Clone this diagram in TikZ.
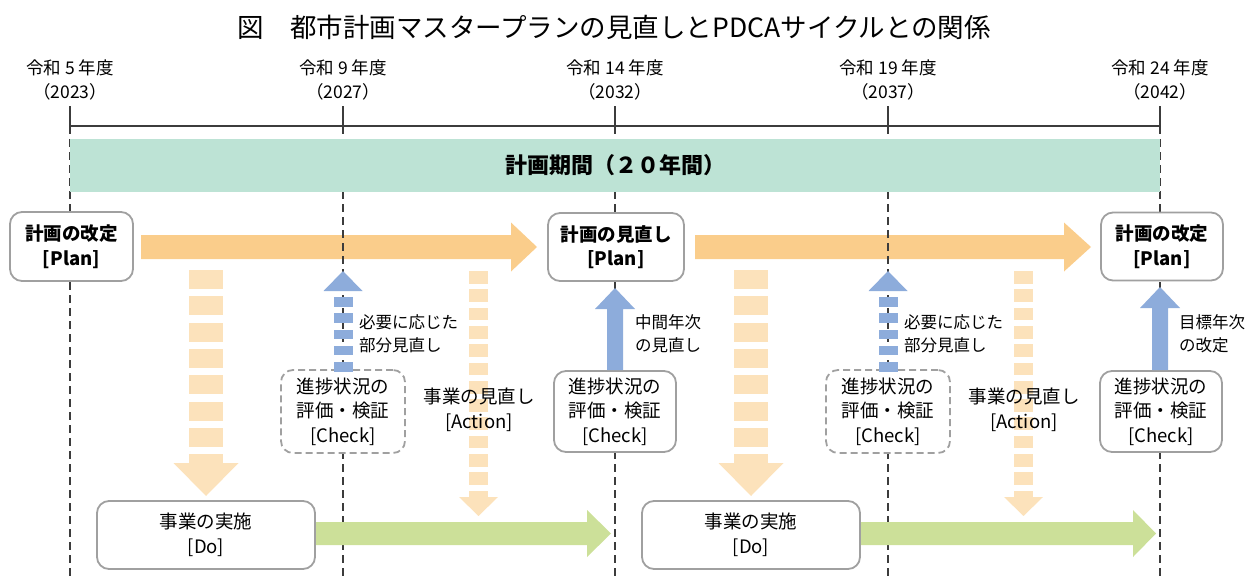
\documentclass[tikz,border=0pt]{standalone}
\usepackage{fontspec}
\setmainfont{Noto Sans CJK JP}
\definecolor{orangeA}{RGB}{250,205,139}
\definecolor{orangeL}{RGB}{252,226,187}
\definecolor{blueA}{RGB}{141,172,219}
\definecolor{greenA}{RGB}{204,224,153}
\definecolor{bandc}{RGB}{189,227,213}
\definecolor{boxgray}{RGB}{160,160,160}
\definecolor{linegray}{RGB}{60,60,60}
\newcommand\fs[2]{\fontsize{#1}{#2}\selectfont}
% horizontal block arrow: color, x start, x head, x tip, y centre, half body, half head
\newcommand\harrow[7]{\fill[#1] (#2,#5-#6) -- (#3,#5-#6) -- (#3,#5-#7) -- (#4,#5) -- (#3,#5+#7) -- (#3,#5+#6) -- (#2,#5+#6) -- cycle;}
% vertical solid block arrow: color, x centre, half body, half head, y body end, y head base, y tip
\newcommand\varrow[7]{\fill[#1] (#2-#3,#5) -- (#2-#3,#6) -- (#2-#4,#6) -- (#2,#7) -- (#2+#4,#6) -- (#2+#3,#6) -- (#2+#3,#5) -- cycle;}
% dashed body: color, x centre, half body, first dash y, period, dash length, last index
\newcommand\dvbody[7]{%
  \foreach \k in {0,...,#7}{\fill[#1] (#2-#3,#4+\k*#5) rectangle (#2+#3,#4+\k*#5+#6);}}
% head: color, x centre, half head, y base, y tip
\newcommand\dvhead[5]{\fill[#1] (#2-#3,#4) -- (#2+#3,#4) -- (#2,#5) -- cycle;}
\tikzset{
  rbox/.style={draw=boxgray, line width=1.8pt, rounded corners=12pt, fill=white, align=center, inner sep=0pt},
  dbox/.style={rbox, dash pattern=on 7pt off 4pt},
  plantext/.style={font=\bfseries\fs{18.5}{24.5}},
  boxtext/.style={font=\fs{18.5}{24.5}},
  yeartext/.style={font=\fs{17.5}{20}},
  sidetext/.style={font=\fs{16.5}{23}, align=left, anchor=west, inner sep=0pt},
  actext/.style={font=\fs{18.5}{24.5}, align=center, inner sep=0pt},
  tick/.style={draw=linegray, line width=1.3pt},
  vline/.style={draw=linegray, line width=1.3pt, dash pattern=on 8pt off 5pt},
}
\begin{document}
\begin{tikzpicture}[x=1pt,y=-1pt]
\useasboundingbox (0,0) rectangle (1258,578);

% title
\node[font=\fs{26.5}{30}] (title) at (614,27) {図　都市計画マスタープランの見直しとPDCAサイクルとの関係};

% year labels
\foreach \xx/\nen/\yr/\nm in {70/5/2023/a, 343/9/2027/b, 615/14/2032/c, 888/19/2037/d, 1160/24/2042/e}{
  \node[yeartext] (y\nm) at (\xx,68) {令和 \nen{} 年度};
  \node[yeartext] (p\nm) at (\xx,92) {（\yr）};
  \coordinate (top\nm) at (\xx,106);
  \coordinate (mid\nm) at (\xx,126);
  \coordinate (bot\nm) at (\xx,578);
}

% orange plan arrows (behind timeline)
\harrow{orangeA}{141}{511}{537}{247}{12}{24.5}
\harrow{orangeA}{695}{1064}{1091}{247}{12}{24.5}

% timeline
\foreach \nm in {a,b,c,d,e}{
  \draw[tick] (top\nm) -- (mid\nm);
  \draw[vline] (mid\nm) -- (bot\nm);
}
\draw[draw=linegray, line width=2pt] (mida) -- (mide);

% band
\node[fill=bandc, minimum width=1090pt, minimum height=53pt, inner sep=0pt, font=\bfseries\fs{22}{24}] (band) at (615,165.5) {計画期間（２０年間）};

% light orange dashed arrows (Do)
\dvbody{orangeL}{206}{17}{270}{26.3}{19}{7}\dvhead{orangeL}{206}{32.5}{463}{496}
\dvbody{orangeL}{751}{17}{270}{26.3}{19}{7}\dvhead{orangeL}{751}{32.5}{463}{496}

% action dashed arrows
\dvbody{orangeL}{478.5}{9.5}{271}{18.3}{12.7}{12}\dvhead{orangeL}{478.5}{19.5}{497}{516}
\dvbody{orangeL}{1023.5}{9.5}{271}{18.3}{12.7}{12}\dvhead{orangeL}{1023.5}{19.5}{497}{516}

% green arrows
\harrow{greenA}{314}{587}{611}{533.5}{11.5}{23.5}
\harrow{greenA}{859}{1133}{1156}{533.5}{11.5}{23.5}

% plan boxes
\node[rbox, plantext, minimum width=123pt, minimum height=69pt] (plan1) at (71.5,246.5) {計画の改定\\{[Plan]}};
\node[rbox, plantext, minimum width=136pt, minimum height=68pt] (plan2) at (616,247) {計画の見直し\\{[Plan]}};
\node[rbox, plantext, minimum width=122pt, minimum height=68pt] (plan3) at (1162,246.5) {計画の改定\\{[Plan]}};

% check boxes
\node[dbox, boxtext, minimum width=124pt, minimum height=83pt] (check1) at (343,411.5) {進捗状況の\\評価・検証\\{[Check]}};
\node[rbox, boxtext, minimum width=122pt, minimum height=81pt] (check2) at (615,411.5) {進捗状況の\\評価・検証\\{[Check]}};
\node[dbox, boxtext, minimum width=124pt, minimum height=83pt] (check3) at (888,411.5) {進捗状況の\\評価・検証\\{[Check]}};
\node[rbox, boxtext, minimum width=122pt, minimum height=81pt] (check4) at (1161,411.5) {進捗状況の\\評価・検証\\{[Check]}};

% do boxes
\node[rbox, boxtext, minimum width=218pt, minimum height=68pt] (do1) at (206,535) {事業の実施\\{[Do]}};
\node[rbox, boxtext, minimum width=218pt, minimum height=68pt] (do2) at (751,535) {事業の実施\\{[Do]}};

% blue dashed arrows (partial review)
\dvbody{blueA}{343}{9.5}{297}{16.3}{9.5}{4}\dvhead{blueA}{343}{19.5}{291}{271}
\dvbody{blueA}{888}{9.5}{297}{16.3}{9.5}{4}\dvhead{blueA}{888}{19.5}{291}{271}

% blue solid arrows
\varrow{blueA}{615}{8}{20}{370}{309}{288}
\varrow{blueA}{1160}{8}{20}{370}{308}{287}

% side labels
\node[sidetext] (lab1) at (359,334) {必要に応じた\\部分見直し};
\node[sidetext] (lab2) at (635,334) {中間年次\\の見直し};
\node[sidetext] (lab3) at (904,334) {必要に応じた\\部分見直し};
\node[sidetext] (lab4) at (1179,334) {目標年次\\の改定};

% action labels
\node[actext] (act1) at (479,410) {事業の見直し\\{[Action]}};
\node[actext] (act2) at (1024,410) {事業の見直し\\{[Action]}};
\end{tikzpicture}
\end{document}
